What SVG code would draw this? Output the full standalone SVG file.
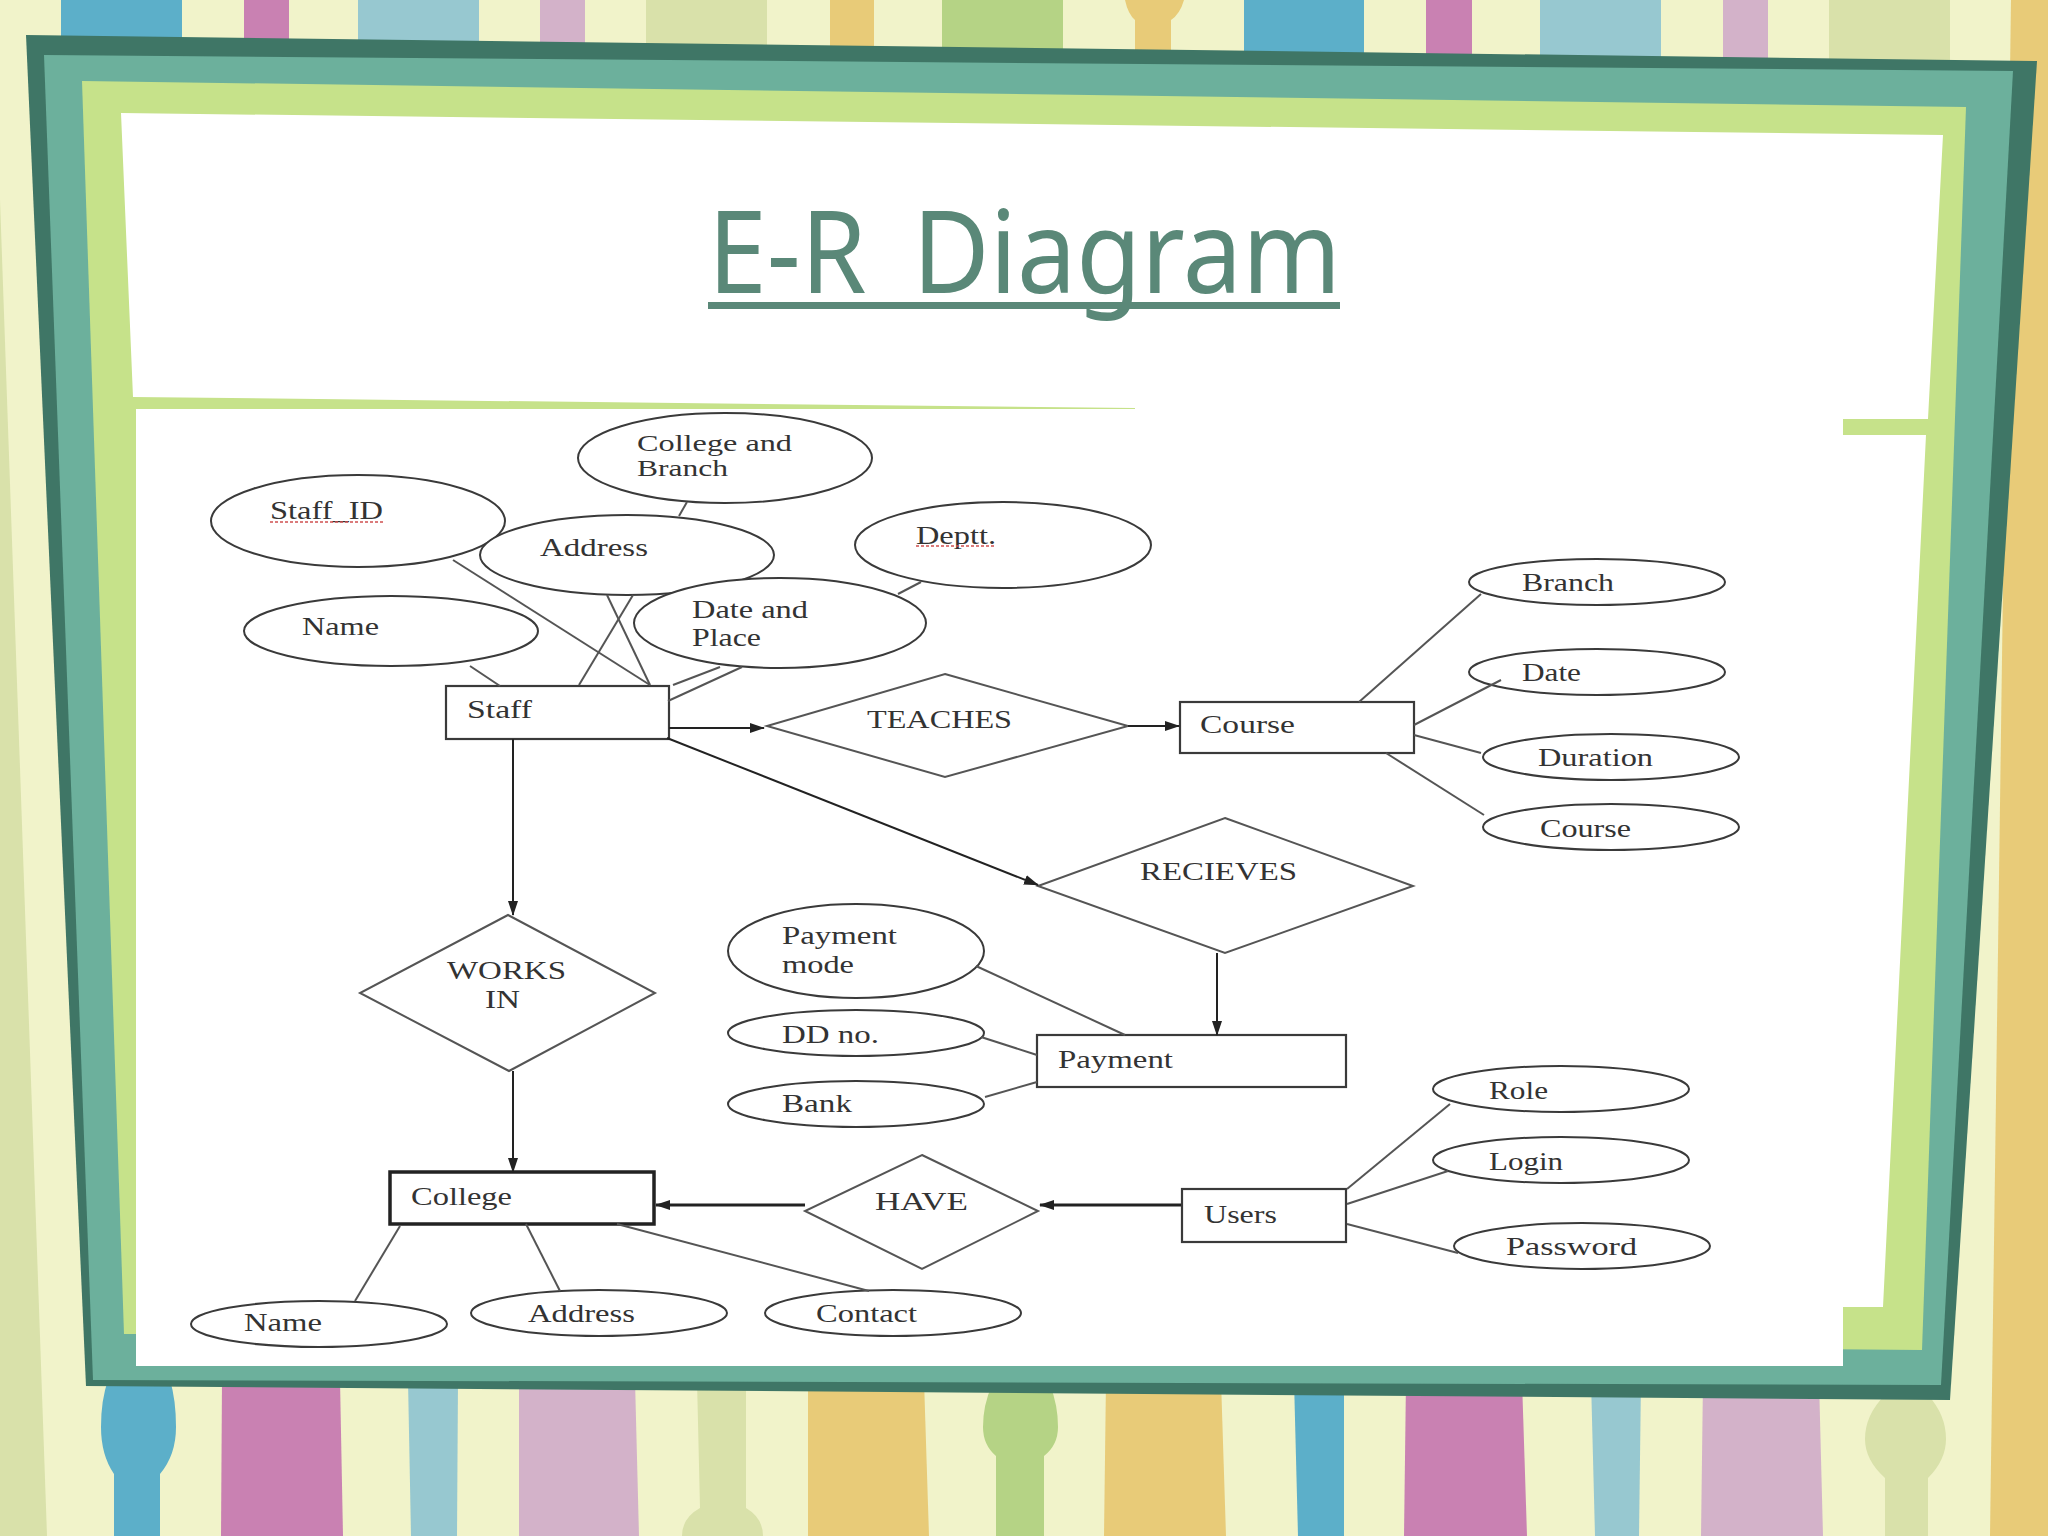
<svg xmlns="http://www.w3.org/2000/svg" width="2048" height="1536" viewBox="0 0 2048 1536">
<defs>
<marker id="arrow" markerWidth="16" markerHeight="12" refX="14" refY="6" orient="auto" markerUnits="userSpaceOnUse"><path d="M0,1 L15,6 L0,11 Z" fill="#222"/></marker>
</defs>
<style>
.blue{fill:#5cafc9}.pink{fill:#c981b2}.lblue{fill:#97c8d0}.mauve{fill:#d3b2c9}.pale{fill:#d9e1aa}.gold{fill:#e8cb78}.green{fill:#b5d385}
.e{fill:#fff;stroke:#3a3a3a;stroke-width:2}
.r{fill:#fff;stroke:#3a3a3a;stroke-width:2.2}
.d{fill:#fff;stroke:#555;stroke-width:2}
.c{fill:none;stroke:#555;stroke-width:2}
.a{fill:none;stroke:#222;stroke-width:2;marker-end:url(#arrow)}
.t{font-family:"Liberation Serif","Times New Roman",serif;font-size:26px;fill:#333}
.sq{fill:none;stroke:#d05050;stroke-width:1.5;stroke-dasharray:3 2}
</style>
<g id="background">
<rect width="2048" height="1536" fill="#f1f3ca"/>
<path class="pale" d="M0,200 L20,768 L47,1536 L0,1536 Z"/>
<path class="gold" d="M2011,0 L2048,0 L2048,1536 L1990,1536 Z"/>
<rect class="blue" x="61" width="121" height="60"/>
<rect class="pink" x="244" width="45" height="60"/>
<rect class="lblue" x="358" width="121" height="60"/>
<rect class="mauve" x="540" width="45" height="60"/>
<rect class="pale" x="646" width="121" height="60"/>
<rect class="gold" x="830" width="44" height="60"/>
<rect class="green" x="942" width="121" height="60"/>
<path class="gold" d="M1125,0 L1184,0 Q1180,14 1171,20 L1171,60 L1135,60 L1135,20 Q1128,14 1125,0 Z"/>
<rect class="blue" x="1244" width="120" height="60"/>
<rect class="pink" x="1426" width="46" height="60"/>
<rect class="lblue" x="1540" width="121" height="65"/>
<rect class="mauve" x="1723" width="45" height="65"/>
<rect class="pale" x="1829" width="121" height="65"/>
<path class="blue" d="M108,1380 L170,1380 Q176,1400 176,1427 Q176,1455 160,1474 L160,1536 L114,1536 L114,1474 Q101,1455 101,1427 Q101,1400 108,1380 Z"/>
<path class="pink" d="M222,1380 L340,1380 L343,1536 L221,1536 Z"/>
<path class="lblue" d="M408,1380 L458,1380 L457,1536 L411,1536 Z"/>
<path class="mauve" d="M519,1380 L635,1380 L639,1536 L519,1536 Z"/>
<path class="pale" d="M697,1380 L746,1380 L746,1508 Q763,1518 763,1536 L682,1536 Q682,1518 700,1508 Z"/>
<path class="gold" d="M808,1380 L924,1380 L929,1536 L808,1536 Z"/>
<path class="green" d="M992,1385 L1050,1385 Q1058,1405 1058,1427 Q1058,1445 1044,1456 L1044,1536 L996,1536 L996,1456 Q983,1445 983,1427 Q983,1405 992,1385 Z"/>
<path class="gold" d="M1106,1380 L1221,1380 L1226,1536 L1104,1536 Z"/>
<path class="blue" d="M1294,1380 L1344,1380 L1344,1536 L1298,1536 Z"/>
<path class="pink" d="M1406,1380 L1522,1380 L1527,1536 L1404,1536 Z"/>
<path class="lblue" d="M1591,1380 L1641,1380 L1639,1536 L1595,1536 Z"/>
<path class="mauve" d="M1703,1380 L1819,1380 L1823,1536 L1701,1536 Z"/>
<path class="pale" d="M1885,1395 L1928,1395 Q1946,1415 1946,1439 Q1946,1460 1928,1478 L1928,1536 L1885,1536 L1885,1478 Q1865,1460 1865,1439 Q1865,1415 1885,1395 Z"/>
</g>
<g id="frame">
<path fill="#3f7666" d="M26,35 L2037,61 L1950,1400 L86,1386 Z"/>
<path fill="#6cb09c" d="M44,55 L2013,71 L1941,1385 L93,1380 Z"/>
<path fill="#c6e28a" d="M82,81 L1966,107 L1922,1350 L124,1334 Z"/>
<path fill="#fff" d="M121,113 L1943,135 L1928,419 L1135,419 L1135,408 L133,397 Z"/>
<path fill="#fff" d="M136,409 L1843,409 L1843,435 L1926,435 L1883,1307 L1843,1307 L1843,1366 L136,1366 Z"/>
<path fill="#6cb09c" d="M124,1334 L136,1334 L136,1366 L124,1366 Z"/>
</g>
<g id="title">
<text x="708" y="293" font-family="'Noto Sans',Tahoma,sans-serif" font-size="115" fill="#5a8878" word-spacing="20" textLength="633" lengthAdjust="spacingAndGlyphs">E-R Diagram</text>
<rect x="708" y="302" width="632" height="7" fill="#5a8878"/>
</g>
<g id="n-college-branch"><ellipse class="e" cx="725" cy="458" rx="147" ry="45"/><text class="t" style="font-size:23px" x="637" y="451" textLength="155" lengthAdjust="spacingAndGlyphs">College and</text><text class="t" style="font-size:23px" x="637" y="476" textLength="91" lengthAdjust="spacingAndGlyphs">Branch</text></g>
<g id="n-staff-id"><ellipse class="e" cx="358" cy="521" rx="147" ry="46"/><text class="t" x="270" y="519" textLength="113" lengthAdjust="spacingAndGlyphs">Staff_ID</text><path class="sq" d="M270,522 H383"/></g>
<g id="n-address"><ellipse class="e" cx="627" cy="555" rx="147" ry="40"/><text class="t" x="540" y="556" textLength="108" lengthAdjust="spacingAndGlyphs">Address</text></g>
<g id="n-deptt"><ellipse class="e" cx="1003" cy="545" rx="148" ry="43"/><text class="t" x="916" y="544" textLength="80" lengthAdjust="spacingAndGlyphs">Deptt.</text><path class="sq" d="M916,546 H996"/></g>
<g id="n-date-place"><ellipse class="e" cx="780" cy="623" rx="146" ry="45"/><text class="t" x="692" y="618" textLength="116" lengthAdjust="spacingAndGlyphs">Date and</text><text class="t" x="692" y="646" textLength="69" lengthAdjust="spacingAndGlyphs">Place</text></g>
<g id="n-name"><ellipse class="e" cx="391" cy="631" rx="147" ry="35"/><text class="t" x="302" y="635" textLength="77" lengthAdjust="spacingAndGlyphs">Name</text></g>
<g id="n-staff"><rect class="r" x="446" y="686" width="223" height="53"/><text class="t" x="467" y="718" textLength="65" lengthAdjust="spacingAndGlyphs">Staff</text></g>
<g id="n-teaches"><path class="d" d="M945,674 L1128,726 L945,777 L767,726 Z"/><text class="t" x="867" y="728" textLength="145" lengthAdjust="spacingAndGlyphs">TEACHES</text></g>
<g id="n-course"><rect class="r" x="1180" y="702" width="234" height="51"/><text class="t" x="1200" y="733" textLength="95" lengthAdjust="spacingAndGlyphs">Course</text></g>
<g id="n-branch"><ellipse class="e" cx="1597" cy="582" rx="128" ry="23"/><text class="t" x="1522" y="591" textLength="92" lengthAdjust="spacingAndGlyphs">Branch</text></g>
<g id="n-date"><ellipse class="e" cx="1597" cy="672" rx="128" ry="23"/><text class="t" x="1522" y="681" textLength="59" lengthAdjust="spacingAndGlyphs">Date</text></g>
<g id="n-duration"><ellipse class="e" cx="1611" cy="757" rx="128" ry="23"/><text class="t" x="1538" y="766" textLength="115" lengthAdjust="spacingAndGlyphs">Duration</text></g>
<g id="n-course-attr"><ellipse class="e" cx="1611" cy="827" rx="128" ry="23"/><text class="t" x="1540" y="837" textLength="91" lengthAdjust="spacingAndGlyphs">Course</text></g>
<g id="n-recieves"><path class="d" d="M1225,818 L1413,886 L1225,953 L1038,886 Z"/><text class="t" x="1140" y="880" textLength="157" lengthAdjust="spacingAndGlyphs">RECIEVES</text></g>
<g id="n-works-in"><path class="d" d="M508,915 L655,993 L509,1071 L360,993 Z"/><text class="t" x="447" y="979" textLength="119" lengthAdjust="spacingAndGlyphs">WORKS</text><text class="t" x="485" y="1008" textLength="35" lengthAdjust="spacingAndGlyphs">IN</text></g>
<g id="n-payment-mode"><ellipse class="e" cx="856" cy="951" rx="128" ry="47"/><text class="t" x="782" y="944" textLength="115" lengthAdjust="spacingAndGlyphs">Payment</text><text class="t" x="782" y="973" textLength="72" lengthAdjust="spacingAndGlyphs">mode</text></g>
<g id="n-dd-no"><ellipse class="e" cx="856" cy="1033" rx="128" ry="23"/><text class="t" x="782" y="1043" textLength="97" lengthAdjust="spacingAndGlyphs">DD no.</text></g>
<g id="n-bank"><ellipse class="e" cx="856" cy="1104" rx="128" ry="23"/><text class="t" x="782" y="1112" textLength="70" lengthAdjust="spacingAndGlyphs">Bank</text></g>
<g id="n-payment"><rect class="r" x="1037" y="1035" width="309" height="52"/><text class="t" x="1058" y="1068" textLength="115" lengthAdjust="spacingAndGlyphs">Payment</text></g>
<g id="n-role"><ellipse class="e" cx="1561" cy="1089" rx="128" ry="23"/><text class="t" x="1489" y="1099" textLength="59" lengthAdjust="spacingAndGlyphs">Role</text></g>
<g id="n-login"><ellipse class="e" cx="1561" cy="1160" rx="128" ry="23"/><text class="t" x="1489" y="1170" textLength="74" lengthAdjust="spacingAndGlyphs">Login</text></g>
<g id="n-password"><ellipse class="e" cx="1582" cy="1246" rx="128" ry="23"/><text class="t" x="1506" y="1255" textLength="131" lengthAdjust="spacingAndGlyphs">Password</text></g>
<g id="n-users"><rect class="r" x="1182" y="1189" width="164" height="53"/><text class="t" x="1204" y="1223" textLength="73" lengthAdjust="spacingAndGlyphs">Users</text></g>
<g id="n-have"><path class="d" d="M922,1155 L1038,1211 L922,1269 L805,1211 Z"/><text class="t" x="875" y="1210" textLength="93" lengthAdjust="spacingAndGlyphs">HAVE</text></g>
<g id="n-college"><rect class="r" style="stroke-width:3.5;stroke:#222" x="390" y="1172" width="264" height="52"/><text class="t" x="411" y="1205" textLength="101" lengthAdjust="spacingAndGlyphs">College</text></g>
<g id="n-name2"><ellipse class="e" cx="319" cy="1324" rx="128" ry="23"/><text class="t" x="244" y="1331" textLength="78" lengthAdjust="spacingAndGlyphs">Name</text></g>
<g id="n-address2"><ellipse class="e" cx="599" cy="1313" rx="128" ry="23"/><text class="t" x="528" y="1322" textLength="107" lengthAdjust="spacingAndGlyphs">Address</text></g>
<g id="n-contact"><ellipse class="e" cx="893" cy="1313" rx="128" ry="23"/><text class="t" x="816" y="1322" textLength="101" lengthAdjust="spacingAndGlyphs">Contact</text></g>
<g id="connectors">
<path class="c" d="M470,666 L500,686"/>
<path class="c" d="M453,560 L650,685"/>
<path class="c" d="M579,685 L633,595"/>
<path class="c" d="M607,595 L650,685"/>
<path class="c" d="M687,502 L679,516"/>
<path class="c" d="M673,685 L720,667"/>
<path class="c" d="M668,701 L742,667"/>
<path class="c" d="M898,594 L921,582"/>
<path class="c" d="M976,966 L1125,1035"/>
<path class="c" d="M981,1037 L1037,1055"/>
<path class="c" d="M985,1097 L1037,1082"/>
<path class="c" d="M400,1226 L355,1301"/>
<path class="c" d="M526,1224 L560,1291"/>
<path class="c" d="M617,1224 L869,1291"/>
<path class="c" d="M1359,702 L1481,594"/>
<path class="c" d="M1414,725 L1501,680"/>
<path class="c" d="M1414,735 L1481,753"/>
<path class="c" d="M1386,753 L1484,815"/>
<path class="c" d="M1347,1189 L1450,1104"/>
<path class="c" d="M1347,1204 L1448,1171"/>
<path class="c" d="M1347,1224 L1458,1253"/>
<path class="a" d="M669,728 L764,728"/>
<path class="a" d="M1128,726 L1179,726"/>
<path class="a" d="M667,738 L1038,885"/>
<path class="a" d="M513,739 L513,915"/>
<path class="a" d="M513,1071 L513,1172"/>
<path class="a" d="M1217,953 L1217,1035"/>
<path class="a" style="stroke-width:3" d="M1181,1205 L1040,1205"/>
<path class="a" style="stroke-width:3" d="M805,1205 L656,1205"/>
</g>
</svg>
